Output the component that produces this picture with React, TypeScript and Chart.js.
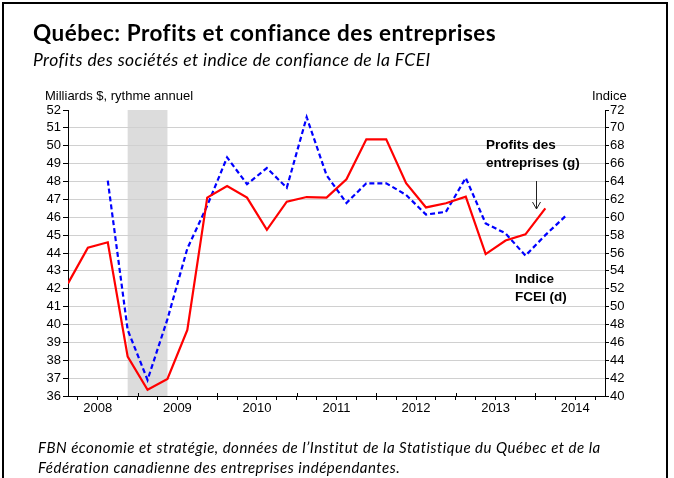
import React, { useEffect, useRef } from 'react';
import { Chart, registerables } from 'chart.js';

Chart.register(...registerables);

// Quarterly series, first point = 2008 T1
const YEARS = ['2008', '2009', '2010', '2011', '2012', '2013', '2014'];
const QUARTERS_PER_YEAR = 4;
const X_MAX = YEARS.length * QUARTERS_PER_YEAR - 1; // 2014 T4

// Profits des sociétés (milliards $, rythme annuel) - axe de gauche
const PROFITS = [
  42.3, 44.3, 44.6, 38.2,
  36.35, 36.95, 39.7, 47.1,
  47.75, 47.1, 45.3, 46.87,
  47.13, 47.1, 48.12, 50.36,
  50.36, 47.9, 46.55, 46.78,
  47.15, 43.94, 44.7, 45.04,
  46.5,
];

// Indice de confiance FCEI - axe de droite
const FCEI = [
  null, null, 64.1, 47.4,
  41.8, 48.6, 56.5, 61.3,
  66.7, 63.7, 65.5, 63.3,
  71.2, 64.7, 61.6, 63.8,
  63.8, 62.5, 60.3, 60.6,
  64.4, 59.3, 58.2, 55.7,
  58.0, 60.1,
];

// Récession (indices de trimestre)
const RECESSION = [3, 5];

const LEFT_MIN = 36;
const LEFT_MAX = 52;
const RIGHT_MIN = 40;
const RIGHT_MAX = 72;

const AXIS_FONT = { family: '"Liberation Sans", Arial, sans-serif', size: 13 };

const recessionPlugin = {
  id: 'recession',
  beforeDraw(chart: any) {
    const { ctx, chartArea, scales } = chart;
    const x0 = scales.x.getPixelForValue(RECESSION[0]);
    const x1 = scales.x.getPixelForValue(RECESSION[1]);
    ctx.save();
    ctx.fillStyle = '#dcdcdc';
    ctx.fillRect(x0, chartArea.top, x1 - x0, chartArea.bottom - chartArea.top);
    ctx.restore();
  },
  afterDraw(chart: any) {
    // year-boundary ticks extend slightly into the plot
    const { ctx, chartArea, scales } = chart;
    ctx.save();
    ctx.strokeStyle = '#000';
    ctx.lineWidth = 1;
    for (let k = 1; k < YEARS.length; k++) {
      const px = Math.round(scales.x.getPixelForValue(k * 4 - 0.5)) + 0.5;
      ctx.beginPath();
      ctx.moveTo(px, chartArea.bottom - 3);
      ctx.lineTo(px, chartArea.bottom);
      ctx.stroke();
    }
    ctx.restore();
  },
};

function App() {
  const ref = useRef<HTMLCanvasElement | null>(null);

  useEffect(() => {
    if (!ref.current) return;
    const chart = new Chart(ref.current, {
      type: 'line',
      data: {
        datasets: [
          {
            label: 'Profits des entreprises (g)',
            data: PROFITS.map((v, i) => ({ x: i, y: v })),
            yAxisID: 'y',
            borderColor: '#ff0000',
            borderWidth: 2.2,
            pointRadius: 0,
            tension: 0,
          },
          {
            label: 'Indice FCEI (d)',
            data: FCEI.map((v, i) => ({ x: i, y: v })),
            yAxisID: 'y1',
            borderColor: '#0000ff',
            borderWidth: 2.2,
            borderDash: [5, 3],
            pointRadius: 0,
            tension: 0,
            spanGaps: false,
          },
        ],
      },
      options: {
        responsive: false,
        animation: false,
        devicePixelRatio: 1,
        layout: { padding: { top: 110, left: 0, right: 0, bottom: 0 } },
        plugins: { legend: { display: false }, tooltip: { enabled: false } },
        scales: {
          x: {
            type: 'linear',
            min: 0,
            max: X_MAX,
            afterBuildTicks: (s: any) => {
              s.ticks = Array.from({ length: X_MAX }, (_, i) => ({ value: i + 0.5 }));
            },
            afterFit: (s: any) => {
              s.height = 82;
            },
            ticks: {
              autoSkip: false,
              maxRotation: 0,
              minRotation: 0,
              padding: 1,
              color: '#000',
              font: AXIS_FONT,
              callback: (v: any) => {
                const k = (Number(v) - 1.5) / 4;
                return Number.isInteger(k) && YEARS[k] ? YEARS[k] : '';
              },
            },
            grid: { drawOnChartArea: false, tickLength: 4, tickColor: '#000', tickWidth: 1 },
            border: { color: '#000', width: 1 },
          },
          y: {
            type: 'linear',
            position: 'left',
            min: LEFT_MIN,
            max: LEFT_MAX,
            afterFit: (s: any) => {
              s.width = 68;
            },
            ticks: { stepSize: 1, autoSkip: false, color: '#000', font: AXIS_FONT, padding: 2 },
            grid: {
              color: (c: any) => (c.index === LEFT_MAX - LEFT_MIN ? 'rgba(255,255,255,0)' : '#d0d0d0'),
              tickColor: '#000',
              tickLength: 5,
              lineWidth: 1,
            },
            border: { color: '#000', width: 1 },
          },
          y1: {
            type: 'linear',
            position: 'right',
            min: RIGHT_MIN,
            max: RIGHT_MAX,
            afterFit: (s: any) => {
              s.width = 69;
            },
            ticks: { stepSize: 2, autoSkip: false, color: '#000', font: AXIS_FONT, padding: 1 },
            grid: { drawOnChartArea: false, tickColor: '#000', tickLength: 4 },
            border: { color: '#000', width: 1 },
          },
        },
      },
      plugins: [recessionPlugin],
    } as any);
    return () => chart.destroy();
  }, []);

  const calibri = 'Lato, "Open Sans", sans-serif';
  const arial = '"Liberation Sans", Arial, sans-serif';
  const abs = (extra: React.CSSProperties): React.CSSProperties => ({
    position: 'absolute',
    whiteSpace: 'nowrap',
    lineHeight: 1,
    color: '#000',
    ...extra,
  });

  return (
    <div
      style={{
        position: 'fixed',
        left: 0,
        top: 0,
        width: 674,
        height: 478,
        background: '#fff',
        overflow: 'hidden',
      }}
    >
      <canvas ref={ref} width={674} height={478} style={{ position: 'absolute', left: 0, top: 0, width: 674, height: 478 }} />
      <div
        style={{
          position: 'absolute',
          left: 2,
          top: 2,
          width: 666,
          height: 520,
          borderLeft: '2px solid #000',
          borderTop: '2px solid #000',
          borderRight: '2px solid #000',
          boxSizing: 'border-box',
        }}
      />
      <div style={abs({ left: 33, top: 22, fontFamily: calibri, fontWeight: 700, fontSize: 22.5, letterSpacing: 0.5 })}>
        Québec: Profits et confiance des entreprises
      </div>
      <div style={abs({ left: 33, top: 51, fontFamily: calibri, fontStyle: 'italic', fontSize: 17.5, letterSpacing: 0.4 })}>
        Profits des sociétés et indice de confiance de la FCEI
      </div>
      <div style={abs({ left: 45, top: 89, fontFamily: arial, fontSize: 13 })}>Milliards $, rythme annuel</div>
      <div style={abs({ left: 592, top: 89, fontFamily: arial, fontSize: 13 })}>Indice</div>
      <div style={abs({ left: 486, top: 136, fontFamily: arial, fontWeight: 700, fontSize: 13.5, lineHeight: '18px' })}>
        Profits des
        <br />
        entreprises (g)
      </div>
      <svg style={{ position: 'absolute', left: 0, top: 0 }} width={674} height={478}>
        <line x1={536.5} y1={181} x2={536.5} y2={209} stroke="#222" strokeWidth={1} />
        <polyline points="532.5,202 536.5,209 540.5,202" fill="none" stroke="#222" strokeWidth={1} />
      </svg>
      <div style={abs({ left: 515, top: 270, fontFamily: arial, fontWeight: 700, fontSize: 13.5, lineHeight: '18px' })}>
        Indice
        <br />
        FCEI (d)
      </div>
      <div style={abs({ left: 38, top: 437, fontFamily: calibri, fontStyle: 'italic', fontSize: 15, letterSpacing: 0.5, lineHeight: '20px' })}>
        FBN économie et stratégie, données de l’Institut de la Statistique du Québec et de la
        <br />
        Fédération canadienne des entreprises indépendantes.
      </div>
    </div>
  );
}

export default App;
